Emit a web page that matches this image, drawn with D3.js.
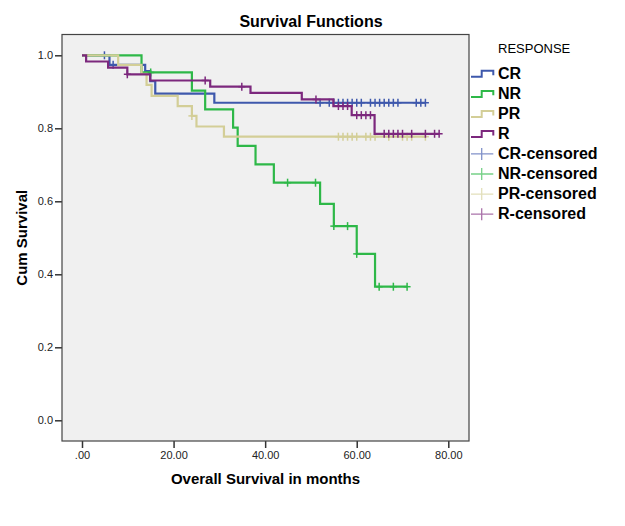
<!DOCTYPE html>
<html>
<head>
<meta charset="utf-8">
<script src="https://cdn.jsdelivr.net/npm/d3@7/dist/d3.min.js"></script>
<style>
  html, body { margin: 0; padding: 0; background: #ffffff; }
  svg { display: block; font-family: "Liberation Sans", Arial, sans-serif; }
</style>
</head>
<body>
<svg id="chart" width="625" height="526"></svg>
<script>
// ---- Data ----
const groups = ["CR", "NR", "PR", "R"];
const colors = ["#3E58AC", "#2EB848", "#D3CE97", "#7C287D"];

// event (drop) times and survival level after each drop
const crDropTimes = [6.0, 13.8, 14.9, 16.0, 28.9];
const crSurvival  = [0.974, 0.957, 0.929, 0.895, 0.870];
const crCensored  = [4.9, 6.8, 52, 54, 55, 56, 57, 58, 59, 60, 61, 63, 64, 65, 66, 67, 68, 69, 73, 74, 75];

const nrDropTimes = [13.0, 24.0, 26.9, 33.0, 34.0, 37.9, 41.9, 52.0, 55.0, 60.0, 64.0];
const nrSurvival  = [0.953, 0.903, 0.852, 0.802, 0.752, 0.701, 0.651, 0.593, 0.532, 0.456, 0.366];
const nrCensored  = [15.0, 44.9, 51.0, 55.0, 58.0, 60.0, 64.9, 68.0, 71.0];

const prDropTimes = [7.9, 13.0, 14.1, 15.2, 20.9, 24.0, 25.0, 31.0];
const prSurvival  = [0.974, 0.949, 0.919, 0.889, 0.861, 0.834, 0.805, 0.777];
const prCensored  = [24.0, 56, 57, 58, 59, 60, 62, 63, 64, 67, 70, 71, 72, 75];

const rDropTimes = [0.9, 5.7, 9.9, 14.9, 28.0, 36.8, 48.0, 54.9, 58.9, 63.9];
const rSurvival  = [0.983, 0.966, 0.948, 0.931, 0.914, 0.897, 0.879, 0.861, 0.836, 0.785];
const rCensored  = [9.9, 26.9, 34.9, 51.1, 56, 57, 58, 60, 61, 62, 63, 66, 67, 68, 69, 70, 72, 75, 77, 78];

const xTicks = [0, 20, 40, 60, 80];
const xTickLabels = [".00", "20.00", "40.00", "60.00", "80.00"];
const yTicks = [0, 0.2, 0.4, 0.6, 0.8, 1.0];
const yTickLabels = ["0.0", "0.2", "0.4", "0.6", "0.8", "1.0"];

const legendTitle = "RESPONSE";
const legendLabels = ["CR", "NR", "PR", "R", "CR-censored", "NR-censored", "PR-censored", "R-censored"];

const series = [
  { name: "CR", drops: crDropTimes, surv: crSurvival, cens: crCensored },
  { name: "NR", drops: nrDropTimes, surv: nrSurvival, cens: nrCensored },
  { name: "PR", drops: prDropTimes, surv: prSurvival, cens: prCensored },
  { name: "R",  drops: rDropTimes,  surv: rSurvival,  cens: rCensored }
];

// ---- Layout ----
const box = { left: 62, right: 469, top: 34.5, bottom: 441 };
const x = d3.scaleLinear().domain([0, 80]).range([82, 448.3]);
const y = d3.scaleLinear().domain([0, 1]).range([420.3, 55.3]);

const svg = d3.select("#chart");

// title
svg.append("text")
  .attr("x", 311).attr("y", 27)
  .attr("text-anchor", "middle")
  .attr("font-size", 16).attr("font-weight", "bold").attr("fill", "#000")
  .text("Survival Functions");

// plot background
svg.append("rect")
  .attr("x", box.left).attr("y", box.top)
  .attr("width", box.right - box.left).attr("height", box.bottom - box.top)
  .attr("fill", "#F0F0F0");

// axes
const yAxis = d3.axisLeft(y).tickValues(yTicks)
  .tickFormat((d, i) => yTickLabels[i]).tickSize(7).tickPadding(2);
const gy = svg.append("g").attr("transform", `translate(${box.left},0)`).call(yAxis);
const xAxis = d3.axisBottom(x).tickValues(xTicks)
  .tickFormat((d, i) => xTickLabels[i]).tickSize(7).tickPadding(3);
const gx = svg.append("g").attr("transform", `translate(0,${box.bottom})`).call(xAxis);
[gx, gy].forEach(g => {
  g.select(".domain").remove();
  g.selectAll(".tick line").attr("stroke", "#333").attr("stroke-width", 1.5);
  g.selectAll(".tick text").attr("font-size", 11).attr("fill", "#222")
    .attr("font-family", "'Liberation Sans', Arial, sans-serif");
});

// axis titles
svg.append("text")
  .attr("x", (box.left + box.right) / 2).attr("y", 484)
  .attr("text-anchor", "middle")
  .attr("font-size", 15).attr("font-weight", "bold").attr("fill", "#000")
  .text("Overall Survival in months");
svg.append("text")
  .attr("transform", `translate(27,${(box.top + box.bottom) / 2}) rotate(-90)`)
  .attr("text-anchor", "middle")
  .attr("font-size", 15).attr("font-weight", "bold").attr("fill", "#000")
  .text("Cum Survival");

// curves
const line = d3.line().x(d => x(d[0])).y(d => y(d[1])).curve(d3.curveStepAfter);
function levelAt(s, t) {
  let v = 1;
  s.drops.forEach((dt, i) => { if (dt <= t + 1e-9) v = s.surv[i]; });
  return v;
}
const plot = svg.append("g");
series.forEach((s, i) => {
  const pts = [[0, 1]];
  s.drops.forEach((t, j) => pts.push([t, s.surv[j]]));
  const tEnd = Math.max(d3.max(s.drops), d3.max(s.cens));
  pts.push([tEnd, s.surv[s.surv.length - 1]]);
  plot.append("path").datum(pts)
    .attr("fill", "none").attr("stroke", colors[i]).attr("stroke-width", 2.2)
    .attr("d", line);
  const g = plot.append("g").attr("stroke", colors[i]).attr("stroke-width", 1.5);
  s.cens.forEach(t => {
    const cx = x(t), cy = y(levelAt(s, t));
    g.append("line").attr("x1", cx).attr("x2", cx).attr("y1", cy - 4).attr("y2", cy + 4);
    g.append("line").attr("x1", cx - 3.5).attr("x2", cx + 3.5).attr("y1", cy).attr("y2", cy);
  });
});

// frame
svg.append("rect")
  .attr("x", box.left).attr("y", box.top)
  .attr("width", box.right - box.left).attr("height", box.bottom - box.top)
  .attr("fill", "none").attr("stroke", "#444").attr("stroke-width", 1.2);

// legend
const lg = svg.append("g");
lg.append("text").attr("x", 498).attr("y", 53)
  .attr("font-size", 13).attr("fill", "#000").text(legendTitle);
legendLabels.forEach((lab, i) => {
  const cy = 73.5 + i * 20.1;
  const ci = i % 4;
  if (i < 4) {
    lg.append("path")
      .attr("d", `M471,${cy + 3.3}H481.7V${cy - 2.7}H493.3V${cy + 1.7}`)
      .attr("fill", "none").attr("stroke", colors[ci]).attr("stroke-width", 2);
  } else {
    lg.append("path")
      .attr("d", `M471,${cy}H493.3M481.7,${cy - 6}V${cy + 6}`)
      .attr("fill", "none").attr("stroke", colors[ci]).attr("stroke-width", 1.3)
      .attr("stroke-opacity", 0.65);
  }
  lg.append("text").attr("x", 498).attr("y", cy + 5.2)
    .attr("font-size", 16).attr("font-weight", "bold").attr("fill", "#000").text(lab);
});
</script>
</body>
</html>
